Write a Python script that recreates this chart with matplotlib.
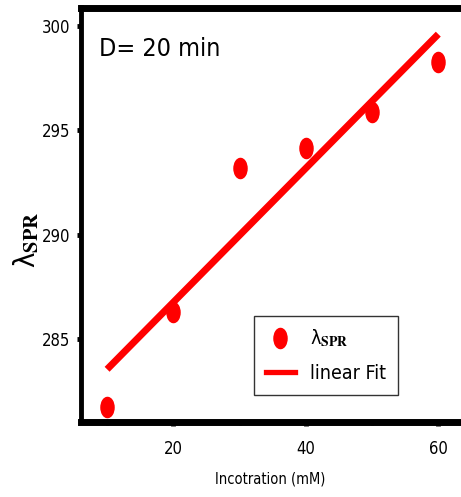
import numpy as np
import matplotlib
matplotlib.use("Agg")
import matplotlib.pyplot as plt
from matplotlib.path import Path
from matplotlib.transforms import Affine2D
from matplotlib.lines import Line2D

concentration = [10, 20, 30, 40, 50, 60]
lambda_spr = [281.75, 286.28, 293.17, 294.15, 295.88, 298.24]
x_ticks = [20, 40, 60]
y_ticks = [285, 290, 295, 300]

plt.rcParams['font.family'] = ['DejaVu Sans']
plt.rcParams['font.stretch'] = 'condensed'
plt.rcParams['mathtext.fontset'] = 'stix'

fig = plt.figure(figsize=(4.61, 4.97), dpi=100)
ax = fig.add_axes([81/461, 75/497, 380/461, 414.5/497])

ell = Path.unit_circle().transformed(Affine2D().scale(0.65, 1.0))

slope, intercept = np.polyfit(concentration, lambda_spr, 1)
xf = np.array([concentration[0], concentration[-1]])
ax.plot(xf, slope * xf + intercept, color='#ff0000', lw=5.0, solid_capstyle='butt', zorder=2)
ax.plot(concentration, lambda_spr, ls='none', marker=ell, markersize=14.5,
        color='#ff0000', zorder=3)

ax.set_xlim(6.06, 63.43)
ax.set_ylim(281.04, 300.87)
ax.set_xticks(x_ticks)
ax.set_yticks(y_ticks)
ax.set_xticks([10, 30, 50], minor=True)

ax.spines['left'].set_linewidth(3.5)
for s in ['top', 'bottom']:
    ax.spines[s].set_linewidth(5)
ax.spines['right'].set_visible(False)
ax.tick_params(axis='y', which='major', direction='out', length=3, width=3.5,
               labelsize=12, pad=5)
ax.tick_params(axis='x', which='major', direction='out', length=3, width=3.5,
               labelsize=12, pad=10)
ax.tick_params(axis='x', which='minor', direction='out', length=2, width=2)

ax.text((99-81)/380, (422-49)/414.5, 'D= 20 min', transform=ax.transAxes,
        fontsize=18, va='center', ha='left')

ax.set_xlabel('Incotration (mM)', fontsize=10.5)
ax.xaxis.set_label_coords((270-81)/380, -(472-422)/414.5)
ax.set_ylabel(r'λ$_{\mathbf{SPR}}$', fontsize=21)
ax.yaxis.set_label_coords((41-81)/380, (422-240)/414.5)

handles = [Line2D([], [], ls='none', marker=ell, markersize=14.5, color='#ff0000'),
           Line2D([], [], color='#ff0000', lw=3.8)]
leg = ax.legend(handles, [r'λ$_{\mathbf{SPR}}$', 'linear Fit'],
                loc='upper left', bbox_to_anchor=((254-81)/380, (422-316)/414.5),
                fontsize=14, frameon=True, fancybox=False, edgecolor='black',
                handlelength=1.5, borderpad=0.6, labelspacing=0.75, handletextpad=0.8,
                borderaxespad=0)
leg.get_frame().set_linewidth(1.0)

fig.savefig('out.png', dpi=100)
